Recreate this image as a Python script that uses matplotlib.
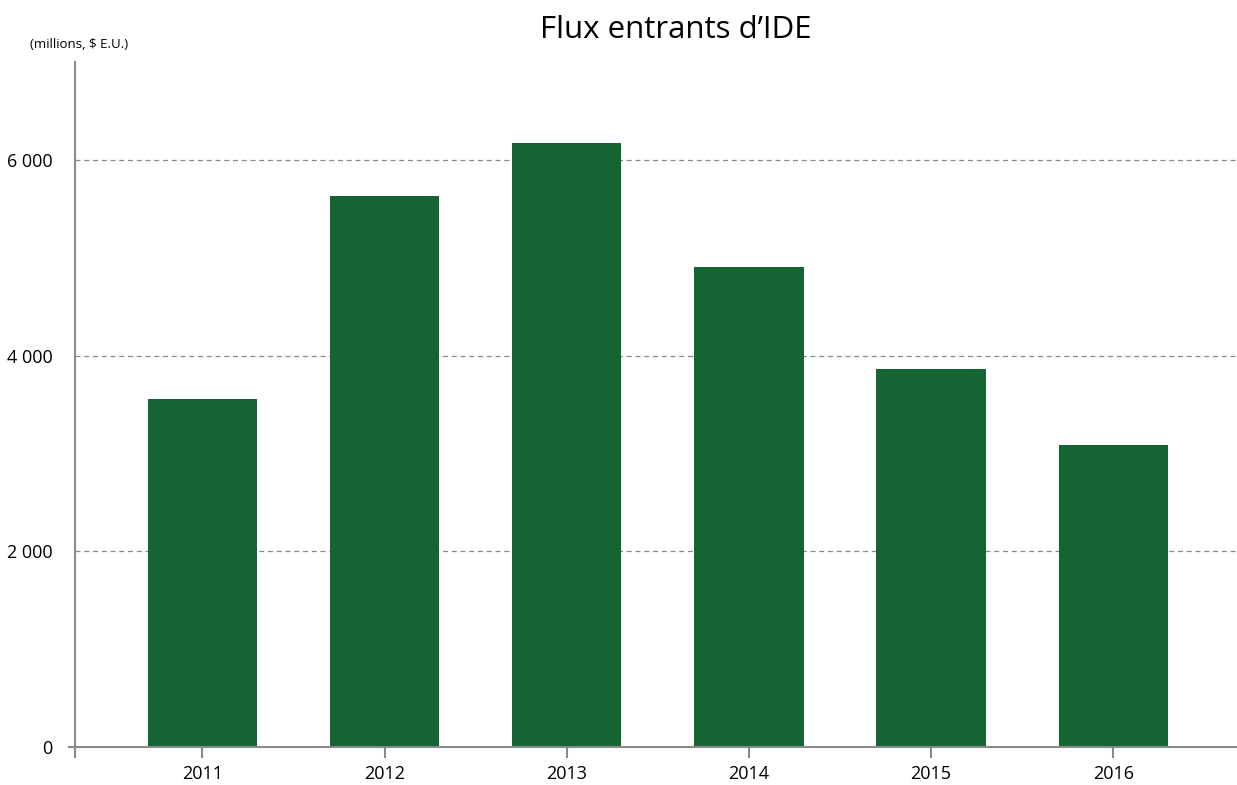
import matplotlib.pyplot as plt
from matplotlib.lines import Line2D

plt.rcParams['font.family'] = ['Open Sans', 'DejaVu Sans']

annees = ['2011', '2012', '2013', '2014', '2015', '2016']
flux = [3560, 5630, 6175, 4905, 3865, 3090]
yticks = [0, 2000, 4000, 6000]
ylabels = ['0', '2 000', '4 000', '6 000']

fig = plt.figure(figsize=(12.37, 7.85), dpi=100)
ax = fig.add_axes([0.0606, 0.0484, 0.9394, 0.8726])

x = range(len(annees))
ax.bar(x, flux, width=0.6, color='#156434', zorder=2)

ax.set_xlim(-0.7, 5.68)
ax.set_ylim(0, 7000)
ax.set_xticks(list(x))
ax.set_xticklabels(annees, fontsize=13)
ax.set_yticks(yticks)
ax.set_yticklabels(ylabels, fontsize=13)

for v in yticks[1:]:
    ax.axhline(v, color='#888888', linestyle=(0, (4, 3)), linewidth=0.9, zorder=1)

for s in ['top', 'right']:
    ax.spines[s].set_visible(False)
for s in ['left', 'bottom']:
    ax.spines[s].set_color('#8a8a8a')
    ax.spines[s].set_linewidth(1.5)

ax.tick_params(axis='x', length=8, width=1.5, color='#8a8a8a', pad=5)
ax.tick_params(axis='y', length=0, pad=16)

# petit prolongement de l'axe vertical sous l'axe horizontal
ax.add_line(Line2D([0, 0], [-0.014, 0], transform=ax.transAxes,
                   color='#8a8a8a', linewidth=1.5, clip_on=False))
ax.add_line(Line2D([-0.005, 0], [0, 0], transform=ax.transAxes,
                   color='#8a8a8a', linewidth=1.5, clip_on=False))

fig.text(0.546, 0.962, 'Flux entrants d\u2019IDE', fontsize=22.5, ha='center', va='center')
fig.text(0.024, 0.943, '(millions, $ E.U.)', fontsize=9.5, ha='left', va='center')

plt.savefig('out.png', dpi=100)
